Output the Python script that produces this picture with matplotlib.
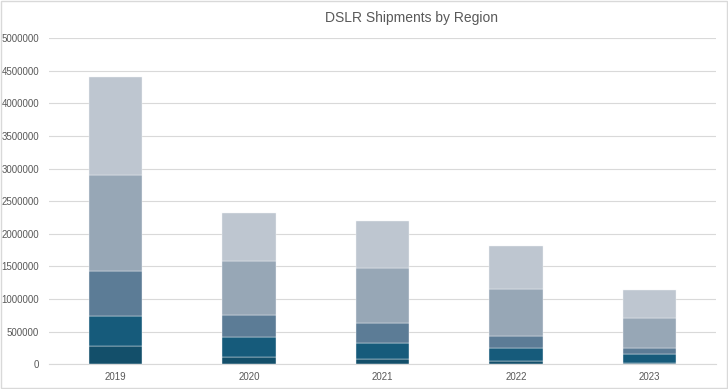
import matplotlib
matplotlib.use("Agg")
import matplotlib.pyplot as plt
from matplotlib.patches import Rectangle

years = ["2019", "2020", "2021", "2022", "2023"]
region_a = [280000, 110000, 80000, 50000, 20000]
region_b = [460000, 310000, 240000, 195000, 133000]
region_c = [690000, 330000, 310000, 185000, 92000]
region_d = [1470000, 830000, 840000, 720000, 460000]
region_e = [1500000, 740000, 720000, 660000, 430000]

series = [region_a, region_b, region_c, region_d, region_e]
colors = ["#134f6a", "#165b7b", "#5c7c96", "#97a7b6", "#bec6d0"]

plt.rcParams["font.family"] = ["Liberation Sans Narrow", "Liberation Sans", "DejaVu Sans"]

fig = plt.figure(figsize=(7.28, 3.89), dpi=100)
ax = fig.add_axes([0.067, 0.064, 0.917, 0.838])

bottom = [0] * len(years)
x = list(range(len(years)))
for vals, c in zip(series, colors):
    ax.bar(x, vals, width=0.4, bottom=bottom, color=c, edgecolor="#f2f4f6", linewidth=0.3, zorder=3)
    bottom = [b + v for b, v in zip(bottom, vals)]

ax.set_ylim(0, 5000000)
ax.set_xlim(-0.5, len(years) - 0.5)
ax.set_yticks(range(0, 5000001, 500000))
ax.set_yticklabels([str(v) for v in range(0, 5000001, 500000)])
ax.set_xticks(x)
ax.set_xticklabels(years)
ax.tick_params(axis="both", length=0, labelsize=7, colors="#595959")
ax.tick_params(axis="y", pad=7)
ax.tick_params(axis="x", pad=6)
ax.grid(axis="y", color="#d9d9d9", linewidth=0.8, zorder=0)
for s in ["top", "right", "left"]:
    ax.spines[s].set_visible(False)
ax.spines["bottom"].set_color("#d9d9d9")
ax.spines["bottom"].set_linewidth(0.8)

fig.text(0.565, 0.955, "DSLR Shipments by Region", ha="center", va="center", fontsize=10, color="#595959")
fig.patches.append(Rectangle((0.001, 0.002), 0.997, 0.995, transform=fig.transFigure, fill=False, edgecolor="#d9d9d9", linewidth=1))

fig.savefig("out.png", dpi=100)
